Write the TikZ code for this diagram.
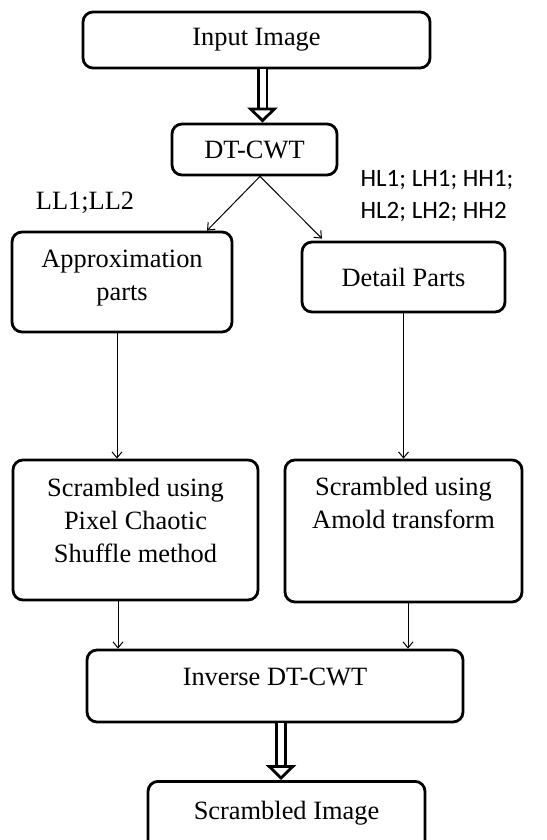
\documentclass[tikz,border=0pt]{standalone}
\usepackage{fontspec}
\setmainfont{Liberation Serif}
\newfontfamily\bandfont{Carlito}
\usepackage{tikz}
\usetikzlibrary{positioning, arrows.meta, calc}

\tikzset{
  stage/.style={draw, line width=1.4pt, rounded corners=5pt, align=center,
                font=\fontsize{13.2}{16.5}\selectfont, inner sep=2pt},
  flow/.style={line width=0.5pt, -{Straight Barb[length=3pt, width=5pt]}},
  bigflow/.style={double, double distance=3pt, line width=1.4pt,
                  -{Triangle[open, length=7.5pt, width=15pt]}},
  band/.style={font=\fontsize{12.5}{16}\selectfont, align=left}
}

\begin{document}
\begin{tikzpicture}[x=0.5pt, y=-0.5pt]
  \useasboundingbox (0,0) rectangle (546,840);
  \clip (0,0) rectangle (546,840);

  % forward transform
  \node[stage, minimum width=173.5pt, minimum height=28pt] (input) at (256.5,40) {Input Image};
  \node[stage, minimum width=82.5pt, minimum height=25.5pt] (dtcwt) at (254.5,149.5) {DT-CWT};

  % sub-band branches
  \node[stage, minimum width=110pt, minimum height=50pt, text depth=7pt] (approx) at (122,282) {Approximation\\parts};
  \node[stage, minimum width=101.5pt, minimum height=35pt] (detail) at (403.5,277) {Detail Parts};
  \node[font=\fontsize{13.2}{15}\selectfont] (lowband) at (85,203) {LL1;LL2};
  \node[band] (highband) at (437,196) {\bandfont HL1; LH1; HH1;\\\bandfont HL2; LH2; HH2};

  % scrambling
  \node[stage, minimum width=122.5pt, minimum height=70pt, text depth=10pt] (scrpix) at (135.5,530)
        {Scrambled using\\Pixel Chaotic\\Shuffle method};
  \node[stage, minimum width=118.5pt, minimum height=71pt, text depth=28pt] (scrarn) at (403.5,531)
        {Scrambled using\\Amold transform};

  % inverse transform
  \node[stage, minimum width=188pt, minimum height=36pt, text depth=9pt] (inverse) at (275,686) {Inverse DT-CWT};
  \node[stage, anchor=north, minimum width=138.5pt, text height=17pt, text depth=25pt] (output) at (286.5,780) {Scrambled Image};

  \draw[bigflow] ([xshift=3pt]input.south) -- ([xshift=3pt]input.south |- dtcwt.north);
  \draw[flow] ([xshift=2.75pt]dtcwt.south) -- ([xshift=42.5pt]approx.north);
  \draw[flow] ([xshift=2.75pt]dtcwt.south) -- ([xshift=-40.75pt,yshift=1pt]detail.north);
  \draw[flow] ([xshift=-2.5pt]approx.south) -- ([xshift=-2.5pt]approx.south |- scrpix.north);
  \draw[flow] (detail.south) -- (detail.south |- scrarn.north);
  \draw[flow] ([xshift=-8.75pt]scrpix.south) -- ([xshift=-8.75pt]scrpix.south |- inverse.north);
  \draw[flow] ([xshift=2.25pt]scrarn.south) -- ([xshift=2.25pt]scrarn.south |- inverse.north);
  \draw[bigflow] ([xshift=3pt]inverse.south) -- ([xshift=3pt]inverse.south |- output.north);
\end{tikzpicture}
\end{document}
